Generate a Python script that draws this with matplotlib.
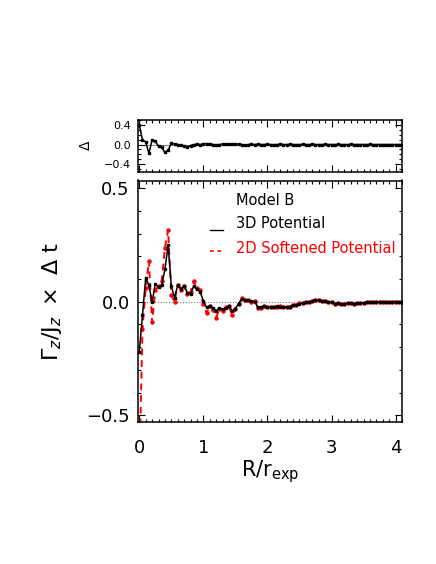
import numpy as np
import matplotlib
matplotlib.use("Agg")
import matplotlib.pyplot as plt
from matplotlib.ticker import MultipleLocator, FixedLocator

plt.rcParams['font.family'] = ['DejaVu Sans']
plt.rcParams['mathtext.fontset'] = 'dejavusans'

# radius grid R/r_exp
radius = [0.00, 0.05, 0.10, 0.15, 0.20, 0.25, 0.30, 0.35, 0.40, 0.45,
          0.50, 0.55, 0.60, 0.65, 0.70, 0.75, 0.80, 0.85, 0.90, 0.95,
          1.00, 1.05, 1.10, 1.15, 1.20, 1.25, 1.30, 1.35, 1.40, 1.45,
          1.50, 1.55, 1.60, 1.65, 1.70, 1.75, 1.80, 1.85, 1.90, 1.95,
          2.00, 2.05, 2.10, 2.15, 2.20, 2.25, 2.30, 2.35, 2.40, 2.45,
          2.50, 2.55, 2.60, 2.65, 2.70, 2.75, 2.80, 2.85, 2.90, 2.95,
          3.00, 3.05, 3.10, 3.15, 3.20, 3.25, 3.30, 3.35, 3.40, 3.45,
          3.50, 3.55, 3.60, 3.65, 3.70, 3.75, 3.80, 3.85, 3.90, 3.95,
          4.00, 4.05, 4.10]

# 3D potential torque
torque_3d = [-0.220, -0.060, 0.107, 0.073, 0.000, 0.078, 0.066, 0.073, 0.143, 0.249,
             0.070, 0.019, 0.073, 0.058, 0.070, 0.041, 0.034, 0.070, 0.055, 0.045,
             0.004, -0.025, -0.018, -0.028, -0.039, -0.028, -0.032, -0.028, -0.018, -0.040,
             -0.030, -0.008, 0.012, 0.009, 0.006, 0.004, 0.000, -0.022, -0.022, -0.018,
             -0.022, -0.024, -0.022, -0.020, -0.021, -0.023, -0.024, -0.021, -0.015, -0.012,
             -0.008, -0.005, -0.002, 0.000, 0.004, 0.008, 0.006, 0.002, 0.004, 0.000,
             -0.002, -0.008, -0.006, -0.010, -0.008, -0.007, -0.006, -0.008, -0.005, -0.006,
             -0.004, -0.002, -0.003, -0.002, -0.001, 0.000, -0.001, 0.000, -0.001, 0.000,
             0.001, 0.000, 0.000]

# 2D softened potential torque
torque_2d = [-0.750, -0.120, 0.060, 0.180, -0.090, 0.050, 0.070, 0.090, 0.238, 0.316,
             0.030, 0.000, 0.075, 0.050, 0.070, 0.035, 0.045, 0.092, 0.060, 0.050,
             -0.010, -0.050, -0.020, -0.035, -0.070, -0.030, -0.040, -0.025, -0.020, -0.060,
             -0.030, -0.010, 0.015, 0.010, 0.008, 0.000, 0.002, -0.028, -0.026, -0.020,
             -0.024, -0.024, -0.023, -0.023, -0.019, -0.025, -0.024, -0.021, -0.014, -0.012,
             -0.006, -0.005, -0.003, 0.001, 0.004, 0.010, 0.006, 0.002, 0.004, -0.001,
             -0.002, -0.010, -0.006, -0.011, -0.008, -0.007, -0.007, -0.008, -0.005, -0.006,
             -0.004, -0.002, -0.003, -0.002, 0.000, 0.000, -0.001, 0.001, -0.001, 0.000,
             0.001, 0.000, 0.001]

# difference panel
delta = [0.400, 0.090, 0.055, -0.180, 0.090, 0.070, -0.040, -0.060, -0.160, -0.120,
         0.030, 0.010, 0.000, -0.010, -0.030, -0.050, -0.020, 0.000, 0.005, 0.000,
         0.010, 0.020, 0.010, 0.000, -0.005, 0.000, 0.010, 0.005, 0.010, 0.005,
         0.015, 0.005, 0.000, -0.010, 0.000, 0.005, 0.000, 0.005, 0.000, 0.000,
         0.003, 0.000, -0.003, 0.000, 0.002, 0.000, 0.000, 0.002, 0.000, -0.002,
         0.000, 0.002, 0.000, 0.000, 0.002, 0.000, 0.000, 0.000, 0.002, 0.000,
         0.000, 0.000, 0.001, 0.000, 0.000, 0.000, 0.001, 0.000, 0.000, 0.000,
         0.000, 0.000, 0.001, 0.000, 0.000, 0.000, 0.000, 0.000, 0.000, 0.000,
         0.000, 0.000, 0.000]

legend_title = "Model B"
legend_labels = ["3D Potential", "2D Softened Potential"]

W, H = 436, 564
fig = plt.figure(figsize=(W / 100, H / 100), dpi=100)

def frac(l, t, r, b):
    return [l / W, 1 - b / H, (r - l) / W, (b - t) / H]

ax_top = fig.add_axes(frac(138, 120, 402, 171.5))
ax = fig.add_axes(frac(138, 180.5, 402, 422))

xlim = (-0.02, 4.10)

for a in (ax_top, ax):
    for s in a.spines.values():
        s.set_linewidth(1.1)
    a.set_xlim(*xlim)
    a.xaxis.set_major_locator(MultipleLocator(1))
    a.xaxis.set_minor_locator(MultipleLocator(0.1))
    a.yaxis.set_minor_locator(MultipleLocator(0.1))
    a.tick_params(which='both', direction='in', top=True, right=True, width=0.8)
    a.tick_params(which='major', length=5)
    a.tick_params(which='minor', length=2.5)

# top panel
ax_top.axhline(0, color='0.55', lw=0.8, zorder=1)
ax_top.plot(radius, delta, color='black', lw=1.1, marker='s', ms=1.6, zorder=3)
ax_top.set_ylim(-0.55, 0.50)
ax_top.yaxis.set_major_locator(FixedLocator([-0.4, 0.0, 0.4]))
ax_top.set_yticklabels(['\u22120.4', '0.0', '0.4'])
ax_top.tick_params(axis='y', labelsize=8, pad=5)
ax_top.tick_params(axis='x', labelbottom=False)
ax_top.set_ylabel('\u0394', fontsize=10, va='center')
ax_top.yaxis.set_label_coords((86 - 138) / 264, 0.5)

# main panel
ax.axhline(0, color='0.45', lw=0.8, ls=(0, (1, 1.5)), zorder=1)
ax.plot(radius, torque_2d, color='red', lw=1.4, ls=(0, (3.5, 2.5)),
        marker='o', ms=2.2, mec='red', mfc='red', zorder=2)
ax.plot(radius, torque_3d, color='black', lw=1.1, marker='s', ms=1.8, zorder=3)
ax.set_ylim(-0.53, 0.535)
ax.yaxis.set_major_locator(FixedLocator([-0.5, 0.0, 0.5]))
ax.set_yticklabels(['\u22120.5', '0.0', '0.5'])
ax.xaxis.set_major_formatter(matplotlib.ticker.FormatStrFormatter('%d'))
ax.tick_params(axis='both', labelsize=13)
ax.tick_params(axis='x', pad=12)
ax.tick_params(axis='y', pad=6)

ax.set_xlabel(r'R/r$_{\mathrm{exp}}$', fontsize=15, labelpad=1)
ax.set_ylabel(r'$\Gamma_z/\mathrm{J}_z\ \times\ \Delta\ \mathrm{t}$', fontsize=16, va='center')
ax.yaxis.set_label_coords((52 - 138) / 264, 0.5)

# legend
tx = (236 - 138) / 264
ax.text(tx, 0.917, legend_title, transform=ax.transAxes, fontsize=10.5,
        va='center', ha='left', color='black')
ax.text(tx, 0.821, legend_labels[0], transform=ax.transAxes, fontsize=10.5,
        va='center', ha='left', color='black')
ax.text(tx, 0.718, legend_labels[1], transform=ax.transAxes, fontsize=10.5,
        va='center', ha='left', color='red')
ax.plot([0.273, 0.321], [0.796, 0.796], transform=ax.transAxes, color='black', lw=1.0)
ax.plot([0.273, 0.321], [0.707, 0.707], transform=ax.transAxes, color='red', lw=1.2,
        ls=(0, (2.2, 2.2)))

fig.savefig('out.png', dpi=100)
